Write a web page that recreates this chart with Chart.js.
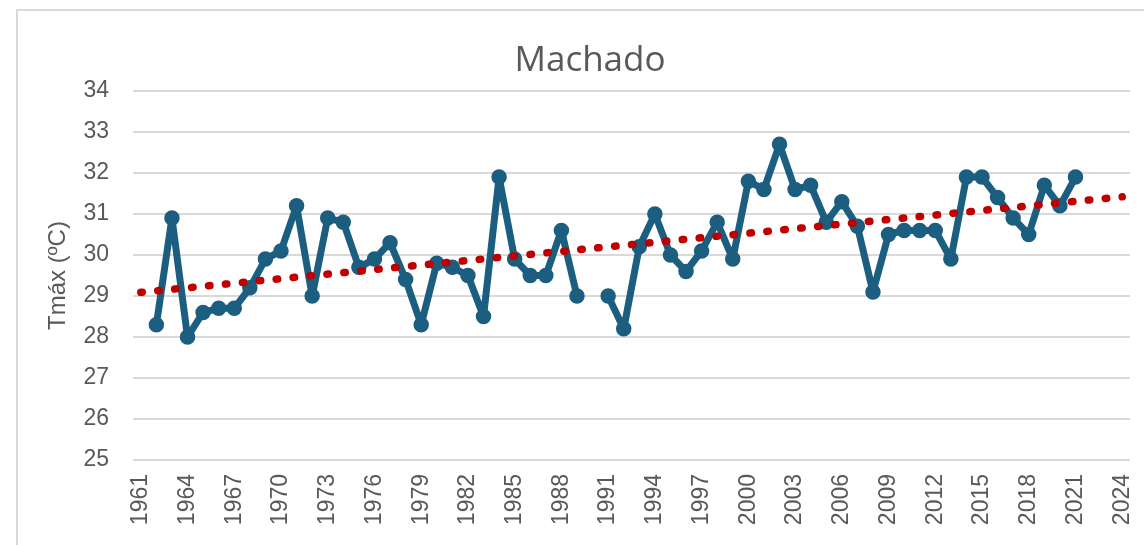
<!DOCTYPE html>
<html>
<head>
<meta charset="utf-8">
<script src="https://cdn.jsdelivr.net/npm/chart.js@4.4.1/dist/chart.umd.min.js"></script>
<style>
    html, body { margin: 0; padding: 0; background: #fff; overflow: hidden; }
    #frame { position: absolute; left: 16px; top: 9px; width: 1200px; height: 600px;
             border-left: 2px solid #d9d9d9; border-top: 2px solid #d9d9d9; }
    #wrap { position: absolute; left: 0; top: 0; width: 1180px; height: 545px; }
</style>
</head>
<body>
<div id="frame"></div>
<div id="wrap"><canvas id="grafik"></canvas></div>
<script>
// Data Tmáx anual - Machado
const years = [
    '1961','1962','1963','1964','1965','1966','1967','1968','1969','1970',
    '1971','1972','1973','1974','1975','1976','1977','1978','1979','1980',
    '1981','1982','1983','1984','1985','1986','1987','1988','1989','1990',
    '1991','1992','1993','1994','1995','1996','1997','1998','1999','2000',
    '2001','2002','2003','2004','2005','2006','2007','2008','2009','2010',
    '2011','2012','2013','2014','2015','2016','2017','2018','2019','2020',
    '2021','2022','2023','2024'
];

const tmax = [
    null, 28.3, 30.9, 28.0, 28.6, 28.7, 28.7, 29.2, 29.9, 30.1,
    31.2, 29.0, 30.9, 30.8, 29.7, 29.9, 30.3, 29.4, 28.3, 29.8,
    29.7, 29.5, 28.5, 31.9, 29.9, 29.5, 29.5, 30.6, 29.0, null,
    29.0, 28.2, 30.2, 31.0, 30.0, 29.6, 30.1, 30.8, 29.9, 31.8,
    31.6, 32.7, 31.6, 31.7, 30.8, 31.3, 30.7, 29.1, 30.5, 30.6,
    30.6, 30.6, 29.9, 31.9, 31.9, 31.4, 30.9, 30.5, 31.7, 31.2,
    31.9, null, null, null
];

// garis tren (awal 1961, akhir 2024)
const trendStart = 29.09;
const trendEnd = 31.42;

const tickYears = [
    '1961','1964','1967','1970','1973','1976','1979','1982','1985','1988','1991',
    '1994','1997','2000','2003','2006','2009','2012','2015','2018','2021','2024'
];

const trend = years.map((y, i) => {
    if (i === 0) return trendStart;
    if (i === years.length - 1) return trendEnd;
    return null;
});

const grey = '#595959';
const ctx = document.getElementById('grafik').getContext('2d');

new Chart(ctx, {
    type: 'line',
    data: {
        labels: years,
        datasets: [{
            label: 'Tendência',
            data: trend,
            spanGaps: true,
            borderColor: '#c00000',
            borderWidth: 7.5,
            borderDash: [1.5, 15.5],
            borderCapStyle: 'round',
            pointRadius: 0,
            pointHoverRadius: 0,
            fill: false
        }, {
            label: 'Tmáx',
            data: tmax,
            spanGaps: false,
            borderColor: '#1b5e80',
            backgroundColor: '#1b5e80',
            borderWidth: 7,
            borderJoinStyle: 'round',
            pointRadius: 7,
            pointBorderWidth: 1.5,
            pointHoverRadius: 7,
            tension: 0,
            fill: false
        }]
    },
    options: {
        responsive: true,
        maintainAspectRatio: false,
        animation: false,
        layout: { padding: { left: 50, right: 50, top: 0, bottom: 15 } },
        plugins: {
            legend: { display: false },
            tooltip: { enabled: false },
            title: {
                display: true,
                text: 'Machado',
                color: grey,
                font: { family: 'Open Sans', size: 35, weight: 'normal' },
                padding: { top: 40, bottom: 9 }
            }
        },
        scales: {
            x: {
                offset: true,
                grid: { display: false, drawTicks: false },
                border: { display: false },
                ticks: {
                    autoSkip: false,
                    maxRotation: 90,
                    minRotation: 90,
                    padding: 14,
                    color: grey,
                    font: { family: 'Liberation Sans', size: 23 },
                    callback: function (val) {
                        const l = this.getLabelForValue(val);
                        return tickYears.includes(l) ? l : '';
                    }
                },
                afterFit: (scale) => { scale.height = 70; }
            },
            y: {
                min: 25,
                max: 34,
                grid: { color: '#d9d9d9', lineWidth: 2, drawTicks: false },
                border: { display: false },
                ticks: {
                    stepSize: 1,
                    padding: 24,
                    color: grey,
                    font: { family: 'Liberation Sans', size: 23 }
                },
                title: {
                    display: true,
                    text: 'Tmáx (ºC)',
                    color: grey,
                    font: { family: 'Liberation Sans', size: 24 },
                    padding: { top: -6, bottom: 0 }
                },
                afterFit: (scale) => { scale.width = 83; }
            }
        }
    }
});
</script>
</body>
</html>
